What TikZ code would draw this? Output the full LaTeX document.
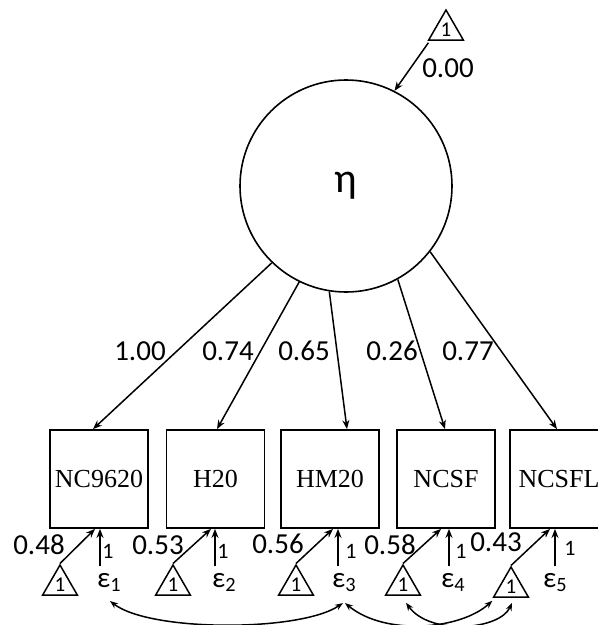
\documentclass[tikz,border=0pt]{standalone}
\usepackage{fontspec}
\setmainfont{Liberation Serif}
\newfontfamily\calfont{Carlito}
\usetikzlibrary{arrows.meta,shapes.geometric,calc}
\tikzset{
  obsbox/.style={draw,line width=1.8pt,minimum width=98pt,minimum height=98pt,inner sep=0pt,font=\fontsize{26}{26}\selectfont},
  latent/.style={draw,circle,line width=1.6pt,minimum size=212pt,inner sep=0pt,font=\calfont\fontsize{42}{42}\selectfont},
  tri/.style={draw,regular polygon,regular polygon sides=3,minimum size=40pt,inner sep=0pt,line width=1.5pt,font=\calfont\fontsize{21}{21}\selectfont},
  path arrow/.style={line width=1.5pt,-{Stealth[length=9pt,width=7pt]}},
  cov arrow/.style={line width=1.5pt,{Stealth[length=8pt,width=6pt]}-{Stealth[length=8pt,width=6pt]}},
  num/.style={font=\calfont\fontsize{29}{29}\selectfont,inner sep=0pt},
  one/.style={font=\calfont\fontsize{22}{22}\selectfont,inner sep=0pt},
  err/.style={font=\calfont\fontsize{29}{29}\selectfont,inner sep=0pt,anchor=base west},
}
\begin{document}
\begin{tikzpicture}[x=1pt,y=-1pt]
\useasboundingbox (0,0) rectangle (598,625);
% latent
\node[latent] (eta) at (346,186) {η};
\node[tri] (t0) at (446,30) {1};
\draw[path arrow] ($(t0.corner 2)+(1,2)$) -- (eta.63);
\node[num] (m0) at (448,68) {0.00};
% boxes
\node[obsbox] (b1) at (99,479) {NC9620};
\node[obsbox] (b2) at (215.5,479) {H20};
\node[obsbox] (b3) at (330,479) {HM20};
\node[obsbox] (b4) at (446,479) {NCSF};
\node[obsbox] (b5) at (559,479) {NCSFL};
% loadings
\draw[path arrow] (eta.226) -- ($(b1.north)+(-6,0)$);
\draw[path arrow] (eta.244) -- ($(b2.north)+(1.5,0)$);
\draw[path arrow] (eta.261) -- ($(b3.north)+(17,0)$);
\draw[path arrow] (eta.299) -- ($(b4.north)+(-1,0)$);
\draw[path arrow] (eta.322) -- ($(b5.north)+(-2,0)$);
\node[num] (l1) at (140,351) {1.00};
\node[num] (l2) at (228,351) {0.74};
\node[num] (l3) at (304,351) {0.65};
\node[num] (l4) at (392,351) {0.26};
\node[num] (l5) at (468,351) {0.77};
% intercept triangles
\node[tri] (t1) at (60,585) {1};
\node[tri] (t2) at (173,585) {1};
\node[tri] (t3) at (296,585) {1};
\node[tri] (t4) at (403,585) {1};
\node[tri] (t5) at (511,587) {1};
\draw[path arrow] (t1.corner 1) -- ($(b1.south)+(-4,0)$);
\draw[path arrow] (t2.corner 1) -- ($(b2.south)+(-4.5,0)$);
\draw[path arrow] (t3.corner 1) -- ($(b3.south)+(3,0)$);
\draw[path arrow] (t4.corner 1) -- ($(b4.south)+(-5,0)$);
\draw[path arrow] (t5.corner 1) -- ($(b5.south)+(-9,0)$);
\node[num] (i1) at (39,545) {0.48};
\node[num] (i2) at (158,545) {0.53};
\node[num] (i3) at (278,544) {0.56};
\node[num] (i4) at (390,545) {0.58};
\node[num] (i5) at (496,542) {0.43};
% errors
\node[err] (e1) at (97,587) {ε\textsubscript{1}};
\node[err] (e2) at (212,587) {ε\textsubscript{2}};
\node[err] (e3) at (332,587) {ε\textsubscript{3}};
\node[err] (e4) at (441,587) {ε\textsubscript{4}};
\node[err] (e5) at (543,587) {ε\textsubscript{5}};
\coordinate (v1) at (100,566);
\coordinate (v2) at (215,566);
\coordinate (v3) at (338,566);
\coordinate (v4) at (449,566);
\coordinate (v5) at (555,566);
\draw[path arrow] (v1) -- (b1.south -| v1);
\draw[path arrow] (v2) -- (b2.south -| v2);
\draw[path arrow] (v3) -- (b3.south -| v3);
\draw[path arrow] (v4) -- (b4.south -| v4);
\draw[path arrow] (v5) -- (b5.south -| v5);
\node[one] (o1) at (108,551) {1};
\node[one] (o2) at (223,551) {1};
\node[one] (o3) at (351,551) {1};
\node[one] (o4) at (461,551) {1};
\node[one] (o5) at (570,548) {1};
% covariances
\draw[cov arrow] ($(e1.base west)+(13,14)$) .. controls (150,632) and (300,632) .. ($(e3.base west)+(11,16)$);
\draw[cov arrow] ($(e3.base west)+(13,16)$) .. controls (385,636) and (460,630) .. ($(t5.corner 2)+(0,3)$);
\draw[cov arrow] ($(t4.south)+(3,7)$) .. controls (430,636) and (500,630) .. ($(t5.south)+(1,5)$);
\end{tikzpicture}
\end{document}
